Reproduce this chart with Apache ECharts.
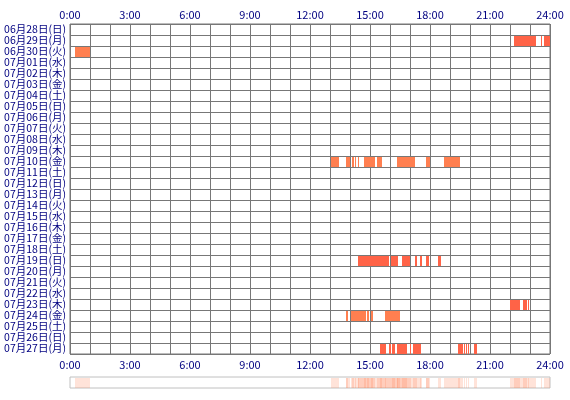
<!DOCTYPE html>
<html>
<head>
<meta charset="utf-8">
<script src="https://cdn.jsdelivr.net/npm/echarts@6/dist/echarts.min.js"></script>
<style>
  html, body { margin: 0; padding: 0; background: #fff; }
  #chart { width: 570px; height: 400px; }
</style>
</head>
<body>
<div id="chart"></div>
<script>
// 日付(縦軸)
const days = [
  '06月28日(日)', '06月29日(月)', '06月30日(火)', '07月01日(水)', '07月02日(木)',
  '07月03日(金)', '07月04日(土)', '07月05日(日)', '07月06日(月)', '07月07日(火)',
  '07月08日(水)', '07月09日(木)', '07月10日(金)', '07月11日(土)', '07月12日(日)',
  '07月13日(月)', '07月14日(火)', '07月15日(水)', '07月16日(木)', '07月17日(金)',
  '07月18日(土)', '07月19日(日)', '07月20日(月)', '07月21日(火)', '07月22日(水)',
  '07月23日(木)', '07月24日(金)', '07月25日(土)', '07月26日(日)', '07月27日(月)'
]

// 横軸の目盛り(3時間ごと)
const hourLabels = ['0:00', '3:00', '6:00', '9:00', '12:00', '15:00', '18:00', '21:00', '24:00']

// 活動時間帯 [日付, 開始, 終了]
const sessions = [
  ['06月29日(月)', '22:12', '23:18'],
  ['06月29日(月)', '23:33', '23:36'],
  ['06月29日(月)', '23:42', '24:00'],
  ['06月30日(火)', '0:15', '1:00'],
  ['07月10日(金)', '13:03', '13:27'],
  ['07月10日(金)', '13:48', '14:00'],
  ['07月10日(金)', '14:06', '14:12'],
  ['07月10日(金)', '14:15', '14:18'],
  ['07月10日(金)', '14:24', '14:27'],
  ['07月10日(金)', '14:42', '15:15'],
  ['07月10日(金)', '15:21', '15:36'],
  ['07月10日(金)', '16:21', '17:15'],
  ['07月10日(金)', '17:48', '18:00'],
  ['07月10日(金)', '18:42', '19:30'],
  ['07月19日(日)', '14:24', '15:57'],
  ['07月19日(日)', '16:03', '16:24'],
  ['07月19日(日)', '16:36', '17:00'],
  ['07月19日(日)', '17:15', '17:21'],
  ['07月19日(日)', '17:30', '17:36'],
  ['07月19日(日)', '17:48', '17:57'],
  ['07月19日(日)', '18:24', '18:33'],
  ['07月23日(木)', '22:00', '22:30'],
  ['07月23日(木)', '22:39', '22:51'],
  ['07月23日(木)', '22:54', '22:57'],
  ['07月24日(金)', '13:48', '13:54'],
  ['07月24日(金)', '14:03', '14:48'],
  ['07月24日(金)', '14:51', '14:57'],
  ['07月24日(金)', '15:03', '15:09'],
  ['07月24日(金)', '15:45', '16:30'],
  ['07月27日(月)', '15:30', '15:48'],
  ['07月27日(月)', '15:57', '16:03'],
  ['07月27日(月)', '16:06', '16:15'],
  ['07月27日(月)', '16:21', '16:51'],
  ['07月27日(月)', '17:00', '17:03'],
  ['07月27日(月)', '17:09', '17:33'],
  ['07月27日(月)', '19:24', '19:39'],
  ['07月27日(月)', '19:42', '19:45'],
  ['07月27日(月)', '19:48', '19:51'],
  ['07月27日(月)', '19:54', '19:57'],
  ['07月27日(月)', '20:12', '20:21']
]

// 色の薄い日
const coralDays = ['06月30日(火)', '07月10日(金)', '07月24日(金)']

function toMin (t) {
  let p = t.split(':')
  return Number(p[0]) * 60 + Number(p[1])
}

let rows = sessions.map(function (s) {
  return [days.indexOf(s[0]), toMin(s[1]), toMin(s[2]), coralDays.indexOf(s[0]) >= 0 ? 1 : 0]
})
let stripRows = sessions.map(function (s) {
  return [0, toMin(s[1]), toMin(s[2])]
})

function hourFormatter (v) {
  return v % 180 === 0 ? hourLabels[v / 180] : ''
}

let chart = echarts.init(document.getElementById('chart'))
chart.setOption({
  animation: false,
  textStyle: { fontFamily: '"Noto Sans CJK JP", sans-serif' },
  grid: [
    { left: 70, right: 20, top: 24, height: 330, show: true, borderColor: '#777', borderWidth: 1 },
    { left: 70, right: 20, top: 377, height: 11, show: true, borderColor: '#c0c0c0', borderWidth: 1 }
  ],
  xAxis: [
    {
      type: 'value', gridIndex: 0, min: 0, max: 1440, interval: 60, position: 'bottom',
      axisLine: { show: false }, axisTick: { show: false },
      axisLabel: { formatter: hourFormatter, color: '#000080', fontSize: 11, margin: 5, showMaxLabel: true },
      splitLine: { show: true, lineStyle: { color: '#777', width: 1 } }
    },
    {
      type: 'value', gridIndex: 0, min: 0, max: 1440, interval: 60, position: 'top',
      axisLine: { show: false }, axisTick: { show: false },
      axisLabel: { formatter: hourFormatter, color: '#000080', fontSize: 11, margin: 4, showMaxLabel: true },
      splitLine: { show: false }
    },
    {
      type: 'value', gridIndex: 1, min: 0, max: 1440, show: false
    }
  ],
  yAxis: [
    {
      type: 'category', gridIndex: 0, data: days, inverse: true,
      axisLine: { show: false }, axisTick: { show: false },
      axisLabel: { color: '#000080', fontSize: 10.5, margin: 4, interval: 0 },
      splitLine: { show: true, interval: 0, lineStyle: { color: '#777', width: 1 } }
    },
    {
      type: 'category', gridIndex: 1, data: ['all'], show: false
    }
  ],
  series: [
    {
      type: 'custom',
      xAxisIndex: 0,
      yAxisIndex: 0,
      data: rows,
      encode: { x: [1, 2], y: 0 },
      renderItem: function (params, api) {
        let s = api.coord([api.value(1), api.value(0)])
        let e = api.coord([api.value(2), api.value(0)])
        let h = api.size([0, 1])[1]
        return {
          type: 'rect',
          shape: { x: s[0], y: s[1] - h / 2 + 1, width: e[0] - s[0], height: h - 1 },
          style: { fill: api.value(3) ? '#ff7f50' : '#ff6347' }
        }
      }
    },
    {
      type: 'custom',
      xAxisIndex: 2,
      yAxisIndex: 1,
      data: stripRows,
      encode: { x: [1, 2], y: 0 },
      renderItem: function (params, api) {
        let s = api.coord([api.value(1), 0])
        let e = api.coord([api.value(2), 0])
        let h = api.size([0, 1])[1]
        return {
          type: 'rect',
          shape: { x: s[0], y: s[1] - h / 2 + 1, width: e[0] - s[0], height: h - 1 },
          style: { fill: 'rgba(255,127,80,0.22)' }
        }
      }
    }
  ]
})
</script>
</body>
</html>
